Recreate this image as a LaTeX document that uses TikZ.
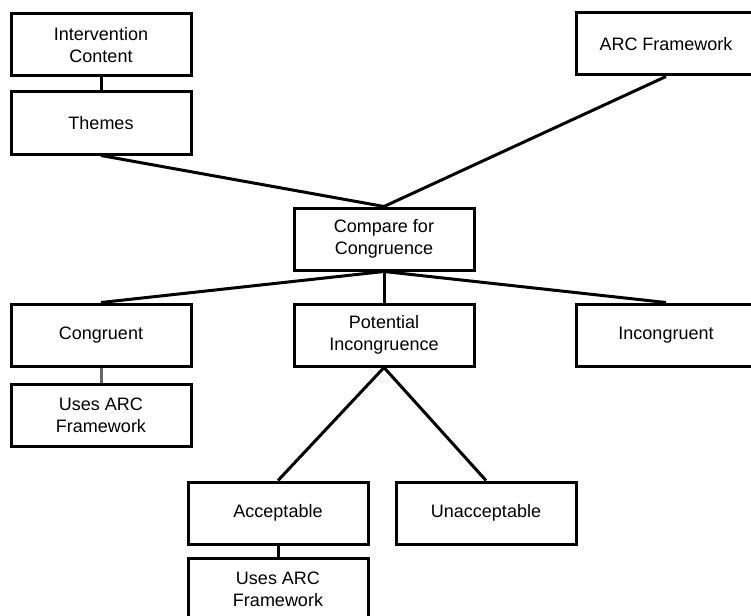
\documentclass[tikz,border=0pt]{standalone}
\usepackage{fontspec}
\setmainfont{Liberation Sans}
\usetikzlibrary{positioning}

\begin{document}
\begin{tikzpicture}[x=1pt, y=-1pt,
    box/.style={draw, fill=white, line width=3pt, minimum width=180pt, minimum height=62pt,
      align=center, inner sep=2pt, font=\fontsize{18}{22}\selectfont},
    link/.style={line width=3pt}]
  \useasboundingbox (0,0) rectangle (751,615);

  % top row
  \node[box] (content) at (101,45) {Intervention\\Content};
  \node[box] (themes) at (101,123) {Themes};
  \node[box] (arc) at (666,44) {ARC Framework};
  \node[box] (compare) at (384,239) {Compare for\\Congruence};

  % second row
  \node[box] (congr) at (101,335) {Congruent};
  \node[box] (potential) at (384,335) {Potential\\Incongruence};
  \node[box] (incongr) at (666,335) {Incongruent};
  \node[box] (usesA) at (101,415) {Uses ARC\\Framework};

  % bottom
  \node[box] (accept) at (278,513) {Acceptable};
  \node[box] (unaccept) at (486,513) {Unacceptable};
  \node[box] (usesB) at (278,589) {Uses ARC\\Framework};

  \draw[link] (content.south) -- (themes.north);
  \draw[link] (themes.south) -- (compare.north);
  \draw[link] (arc.south) -- (compare.north);
  \foreach \n in {congr, potential, incongr} {
    \draw[link] (compare.south) -- (\n.north);
  }
  \draw[link, black!60] (congr.south) -- (usesA.north);
  \draw[link] (potential.south) -- (accept.north);
  \draw[link] (potential.south) -- (unaccept.north);
  \draw[link] (accept.south) -- (usesB.north);
\end{tikzpicture}
\end{document}
